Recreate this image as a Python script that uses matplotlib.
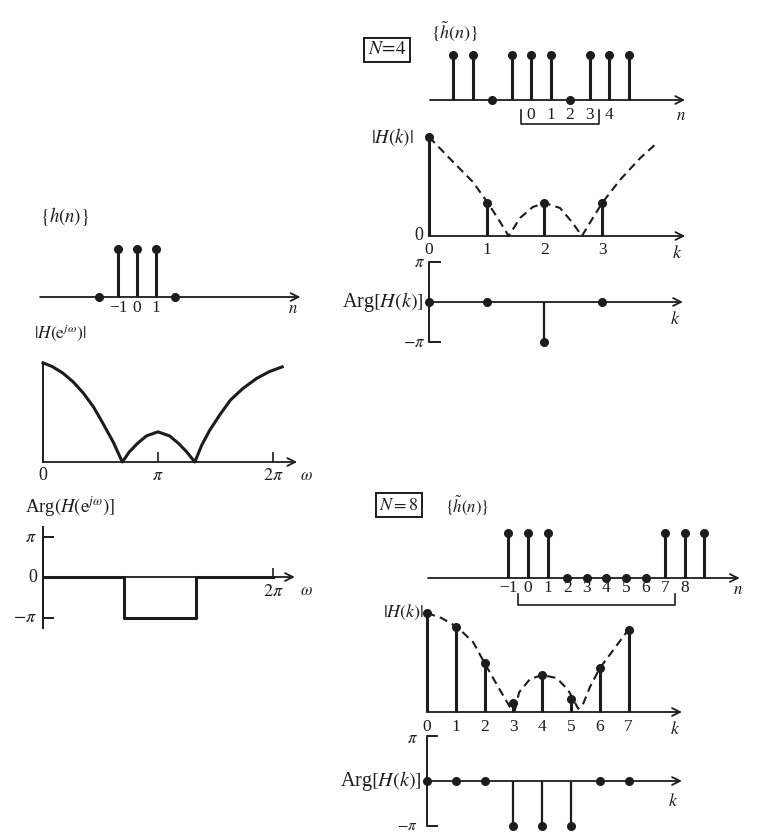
import matplotlib
matplotlib.use("Agg")
import matplotlib.pyplot as plt

plt.rcParams["font.family"] = ["Liberation Serif", "DejaVu Serif"]
plt.rcParams["mathtext.fontset"] = "stix"

INK = "#1c1c1c"
W, H = 762, 835

# ---- h(n): three-point rectangular sequence ----
n_h = [-2, -1, 0, 1, 2]
h_vals = [0, 1, 1, 1, 0]

# ---- |H(e^jw)| sampled along the curve (w in units of pi) ----
w_mag = [0.00, 0.08, 0.17, 0.26, 0.35, 0.44, 0.52, 0.61, 0.69, 0.75, 0.82, 0.90,
         1.00, 1.10, 1.18, 1.25, 1.32, 1.38, 1.45, 1.54, 1.63, 1.74, 1.86, 1.97, 2.08]
mag_vals = [2.96, 2.85, 2.66, 2.40, 2.06, 1.64, 1.16, 0.60, 0.00, 0.30, 0.55, 0.78,
            0.90, 0.78, 0.55, 0.30, 0.00, 0.50, 0.95, 1.42, 1.85, 2.20, 2.50, 2.70, 2.84]

# ---- Arg H(e^jw), piecewise constant (both axes in units of pi) ----
w_phase = [0.0, 0.70, 1.33, 2.0]
phase_vals = [0, -1, 0, 0]

# ---- N = 4 ----
n4 = [-4, -3, -2, -1, 0, 1, 2, 3, 4, 5]
h4 = [1, 1, 0, 1, 1, 1, 0, 1, 1, 1]
n4_labels = [0, 1, 2, 3, 4]
k4 = [0, 1, 2, 3]
H4 = [3, 1, 1, 1]
arg4 = [0, 0, -1, 0]
env4_k = [0, 0.42, 0.76, 1.02, 1.20, 1.38, 1.58, 1.80, 2.01, 2.27, 2.48, 2.65, 2.82,
          3.0, 3.31, 3.66, 3.95]
env4_v = [3.0, 2.24, 1.64, 1.0, 0.52, 0.0, 0.55, 0.88, 1.0, 0.85, 0.42, 0.0, 0.49,
          1.0, 1.70, 2.36, 2.82]

# ---- N = 8 ----
n8 = [-1, 0, 1, 2, 3, 4, 5, 6, 7, 8, 9]
h8 = [1, 1, 1, 0, 0, 0, 0, 0, 1, 1, 1]
n8_labels = [-1, 0, 1, 2, 3, 4, 5, 6, 7, 8]
k8 = [0, 1, 2, 3, 4, 5, 6, 7]
H8 = [3.0, 2.58, 1.48, 0.27, 1.12, 0.39, 1.33, 2.50]
arg8 = [0, 0, 0, -1, -1, -1, 0, 0]
env8_k = [0, 0.5, 1.04, 1.6, 2.0, 2.47, 2.88, 3.05, 3.2, 3.58, 4.0, 4.5, 4.9, 5.25,
          5.4, 5.66, 6.0, 6.47, 6.98]
env8_v = [3.0, 2.85, 2.58, 2.12, 1.48, 0.76, 0.15, 0.05, 0.6, 1.0, 1.12, 1.03, 0.67,
          0.1, 0.2, 0.76, 1.33, 1.88, 2.48]

fig = plt.figure(figsize=(W / 100, H / 100), dpi=100)
fig.patch.set_facecolor("white")


def panel(x0, y0, sx, sy, xlim, ylim):
    """Axes whose data origin sits at pixel (x0, y0), sx/sy pixels per unit."""
    left = x0 + xlim[0] * sx
    right = x0 + xlim[1] * sx
    top = y0 - ylim[1] * sy
    bottom = y0 - ylim[0] * sy
    ax = fig.add_axes([left / W, 1 - bottom / H, (right - left) / W, (bottom - top) / H])
    ax.set_xlim(xlim)
    ax.set_ylim(ylim)
    ax.axis("off")
    return ax


def ftext(x, y, s, size=13, ha="center", va="center", **kw):
    fig.text(x / W, 1 - y / H, s, size=size, ha=ha, va=va, color=INK, **kw)


def arrow_axis(ax, x0, x1, y=0):
    ax.annotate("", xy=(x1, y), xytext=(x0, y),
                arrowprops=dict(arrowstyle="->", lw=1.3, color=INK,
                                shrinkA=0, shrinkB=0, mutation_scale=14),
                annotation_clip=False)


def stems(ax, x, y, lw=2.2):
    ax.vlines(x, 0, y, colors=INK, lw=lw, clip_on=False)
    ax.plot(x, y, "o", ms=5.5, color=INK, clip_on=False, zorder=5)


def tick_labels(ax, xs, labels, dy, size=12.5):
    for x, s in zip(xs, labels):
        ax.annotate(s, xy=(x, 0), xytext=(0, -dy), textcoords="offset pixels",
                    ha="center", va="center", size=size, color=INK,
                    annotation_clip=False)


def bracket(ax, n_lo, n_hi, y_top, y_bot):
    ax.plot([n_lo, n_lo, n_hi, n_hi], [y_top, y_bot, y_bot, y_top],
            color=INK, lw=1.2, clip_on=False)


def phase_axis(ax, tick_len):
    ax.plot([tick_len, 0, 0, tick_len], [1, 1, -1, -1], color=INK, lw=1.4,
            clip_on=False)


def fmt(v):
    return str(v).replace("-", "\u2212")


# ================= left column =================
ax = panel(137, 297, 19, 48, (-5.2, 8.7), (-0.4, 1.4))
arrow_axis(ax, -5.1, 8.6)
stems(ax, n_h, h_vals)
tick_labels(ax, [-1, 0, 1], ["\u22121", "0", "1"], 11)
ftext(65, 216, r"$\{h(n)\}$", size=13.5)
ftext(293, 309, r"$n$", size=12)

ax = panel(43, 462, 115, 33.5, (-0.3, 2.3), (-0.4, 3.2))
arrow_axis(ax, 0, 2.21)
ax.plot([0, 0], [0, mag_vals[0]], color=INK, lw=1.4, clip_on=False)
ax.plot(w_mag, mag_vals, color=INK, lw=2.2, clip_on=False)
ax.vlines([1, 2], 0, 0.3, colors=INK, lw=1.2)
tick_labels(ax, [0, 1, 2], ["0", r"$\pi$", r"$2\pi$"], 14, size=13)
ftext(60, 333, r"$|H(\mathrm{e}^{j\omega})|$", size=12.5)
ftext(306, 476, r"$\omega$", size=12)

ax = panel(43, 577, 115, 40.5, (-0.3, 2.3), (-1.4, 1.4))
arrow_axis(ax, 0, 2.19)
ax.plot([0, 0], [-1.26, 1.23], color=INK, lw=1.4, clip_on=False)
phase_axis(ax, 0.09)
ax.step(w_phase, phase_vals, where="post", color=INK, lw=2.2, clip_on=False)
ax.vlines([2], 0, 0.22, colors=INK, lw=1.2)
ftext(70, 507, r"Arg$(H(\mathrm{e}^{j\omega})]$", size=13.5)
ftext(37, 537, r"$\pi$", ha="right", size=13)
ftext(37, 577, "0", ha="right", size=13)
ftext(37, 618, r"$-\pi$", ha="right", size=13)
ftext(273, 591, r"$2\pi$", size=13)
ftext(306, 591, r"$\omega$", size=12)

# ================= N = 4 =================
ftext(387, 50, r"$N\!=\!4$", size=14,
      bbox=dict(boxstyle="square,pad=0.2", fc="white", ec=INK, lw=1.4))
ftext(455, 31, r"$\{\tilde{h}(n)\}$", size=13)

ax = panel(531, 100, 19.5, 45, (-5.3, 8.0), (-0.7, 1.3))
arrow_axis(ax, -5.18, 7.9)
stems(ax, n4, h4)
tick_labels(ax, n4_labels, [fmt(v) for v in n4_labels], 15)
bracket(ax, -0.5, 3.5, -0.22, -0.53)
ftext(681, 116, r"$n$", size=12)

ax = panel(429, 236, 57.7, 33, (-0.3, 4.5), (-0.5, 3.2))
arrow_axis(ax, 0, 4.44)
ax.plot(env4_k, env4_v, color=INK, lw=1.5, dashes=(4, 2.5), clip_on=False)
stems(ax, k4, H4)
tick_labels(ax, k4, [str(v) for v in k4], 14)
ftext(392, 137, r"$|H(k)|$", size=13.5)
ftext(419, 236, "0", size=13)
ftext(677, 253, r"$k$", size=13)

ax = panel(429, 302, 57.7, 40, (-0.3, 4.5), (-1.2, 1.2))
arrow_axis(ax, 0, 4.40)
phase_axis(ax, 0.19)
stems(ax, k4, arg4, lw=1.6)
ftext(425, 263, r"$\pi$", ha="right", size=12)
ftext(425, 343, r"$-\pi$", ha="right", size=12)
ftext(424, 302, r"Arg$[H(k)]$", ha="right", size=14.5)
ftext(675, 320, r"$k$", size=13)

# ================= N = 8 =================
ftext(399, 505, r"$N=8$", size=13,
      bbox=dict(boxstyle="square,pad=0.18", fc="white", ec=INK, lw=1.4))
ftext(467, 505, r"$\{\tilde{h}(n)\}$", size=12)

ax = panel(528, 578, 19.6, 45, (-5.2, 11.0), (-0.7, 1.3))
arrow_axis(ax, -5.1, 10.8)
stems(ax, n8, h8)
tick_labels(ax, n8_labels, [fmt(v) for v in n8_labels], 10)
bracket(ax, -0.5, 7.5, -0.36, -0.6)
ftext(738, 590, r"$n$", size=12)

ax = panel(427, 712, 28.8, 33, (-0.3, 9.0), (-0.5, 3.2))
arrow_axis(ax, 0, 8.85)
ax.plot(env8_k, env8_v, color=INK, lw=1.5, dashes=(4, 2.5), clip_on=False)
stems(ax, k8, H8)
tick_labels(ax, k8, [str(v) for v in k8], 15)
ftext(404, 612, r"$|H(k)|$", size=13)
ftext(675, 729, r"$k$", size=13)

ax = panel(427, 781, 28.8, 45, (-0.3, 9.0), (-1.2, 1.2))
arrow_axis(ax, 0, 8.85)
phase_axis(ax, 0.35)
stems(ax, k8, arg8, lw=1.6)
ftext(418, 739, r"$\pi$", ha="right", size=12)
ftext(418, 826, r"$-\pi$", ha="right", size=11)
ftext(422, 781, r"Arg$[H(k)]$", ha="right", size=14.5)
ftext(673, 801, r"$k$", size=13)

fig.savefig("out.png", dpi=100, facecolor="white")
